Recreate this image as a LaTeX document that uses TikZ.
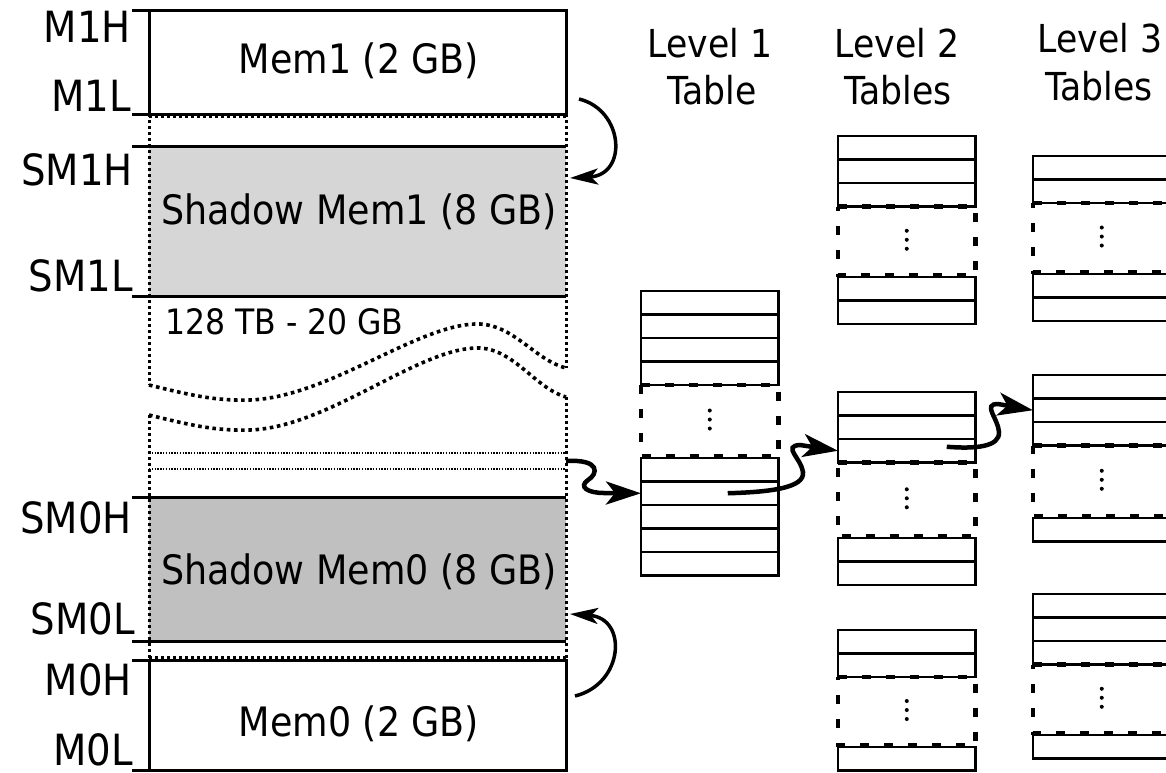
\documentclass[tikz,border=0pt]{standalone}
\usepackage{fontspec}
\setmainfont{DejaVu Sans Condensed}
\usetikzlibrary{arrows.meta,calc}

\definecolor{shadeA}{RGB}{214,214,214}
\definecolor{shadeB}{RGB}{192,192,192}

% One page table: #1 name, #2 left x, #3 top y, #4 upper rows,
% #5 top y of the lower part, #6 lower rows
\newcommand\pagetable[6]{%
  \foreach \k in {1,...,#4}
    \node[row] (#1-u\k) at (#2,{#3+(\k-1)*23.5}) {};
  \pgfmathsetmacro\gaptop{#3+#4*23.5}
  \draw[gapline] (#2,\gaptop) -- (#2+137.5,\gaptop) -- (#2+137.5,#5-2) -- (#2,#5-2) -- cycle;
  \foreach \d in {-9,0,9}
    \fill ({#2+68.75},{(\gaptop+#5)/2-2+\d}) circle (2pt);
  \foreach \k in {1,...,#6}
    \node[row] (#1-l\k) at (#2,{#5+(\k-1)*23.5}) {};
}

\begin{document}
\begin{tikzpicture}[x=1pt,y=-1pt,
  addr/.style={font=\fontsize{43}{50}\selectfont,anchor=base east,inner sep=0pt},
  memtext/.style={font=\fontsize{40.5}{48}\selectfont,anchor=base,inner sep=0pt},
  colhead/.style={font=\fontsize{38.5}{46}\selectfont,anchor=base,inner sep=0pt},
  membox/.style={draw,line width=3pt,anchor=north west,inner sep=0pt,outer sep=0pt,minimum width=417pt},
  shadowbox/.style={anchor=north west,inner sep=0pt,outer sep=0pt,minimum width=417pt},
  tickmark/.style={line width=3pt},
  rim/.style={line width=3pt},
  side/.style={line width=3pt,dash pattern=on 3pt off 3pt},
  wave/.style={line width=3.6pt,dash pattern=on 3.6pt off 3.6pt},
  hair/.style={line width=1.1pt,dash pattern=on 1.4pt off 1.4pt},
  row/.style={draw,line width=2.6pt,anchor=north west,inner sep=0pt,outer sep=0pt,minimum width=137.5pt,minimum height=23.5pt},
  gapline/.style={line width=4.5pt,dash pattern=on 9pt off 15pt},
  hop/.style={line width=4.5pt,-{Stealth[length=35pt,width=23pt,inset=9pt]}},
  swing/.style={line width=3.5pt,-{Stealth[length=28pt,width=16pt,inset=7pt]}},
]
\useasboundingbox (0,0) rectangle (1166,772);
\clip (0,0) rectangle (1166,772);

% shadow regions (filled first so the dotted sides sit on top)
\node[shadowbox,fill=shadeA,minimum height=150pt] (sm1) at (149,146) {};
\node[shadowbox,fill=shadeB,minimum height=144pt] (sm0) at (149,497) {};

% dotted sides of the address space, broken by the cut
\draw[side] (149,114) -- (149,385);
\draw[side] (149,415) -- (149,660);
\draw[side] (566,114) -- (566,368);
\draw[side] (566,397) -- (566,660);
\draw[side] (149,116.5) -- (566,116.5);
\draw[side] (149,657.5) -- (566,657.5);

% the cut through the large gap
\draw[wave] (149,385) .. controls (190,395) and (215,401) .. (250,400)
  .. controls (330,397) and (420,322) .. (480,324)
  .. controls (515,326) and (535,360) .. (566,368);
\draw[wave] (149,415) .. controls (190,425) and (215,431) .. (250,430)
  .. controls (330,427) and (420,346) .. (480,348)
  .. controls (515,350) and (535,388) .. (566,397);
\draw[hair] (149,453) -- (566,453);
\draw[hair] (149,469) -- (566,469);

% memory boxes
\node[membox,minimum height=104pt] (mem1) at (149,10) {};
\node[membox,minimum height=110pt] (mem0) at (149,660) {};
\draw[rim] (sm1.north west) -- (sm1.north east);
\draw[rim] (sm1.south west) -- (sm1.south east);
\draw[rim] (sm0.north west) -- (sm0.north east);
\draw[rim] (sm0.south west) -- (sm0.south east);

\node[memtext] (t-mem1) at (359,73) {Mem1 (2 GB)};
\node[memtext] (t-sm1) at (359,224) {Shadow Mem1 (8 GB)};
\node[memtext] (t-sm0) at (359,584) {Shadow Mem0 (8 GB)};
\node[memtext] (t-mem0) at (359,736) {Mem0 (2 GB)};
\node[anchor=base west,font=\fontsize{35}{42}\selectfont,inner sep=0pt] (gaptext) at (165,334) {128 TB - 20 GB};

% boundary ticks and their names
\foreach \p in {mem1.north west,mem1.south west,sm1.north west,sm1.south west,
                sm0.north west,sm0.south west,mem0.north west,mem0.south west}
  \draw[tickmark] ([xshift=-17pt]\p) -- ([xshift=4pt]\p);
\node[addr] (lab-m1h) at (131,42) {M1H};
\node[addr] (lab-m1l) at (131,111) {M1L};
\node[addr] (lab-sm1h) at (133,185) {SM1H};
\node[addr] (lab-sm1l) at (133,291) {SM1L};
\node[addr] (lab-sm0h) at (132,533) {SM0H};
\node[addr] (lab-sm0l) at (135,634) {SM0L};
\node[addr] (lab-m0h) at (132,695) {M0H};
\node[addr] (lab-m0l) at (133,765) {M0L};

% column headings
\node[colhead] (h1a) at (710,57) {Level 1};
\node[colhead] (h1b) at (712,104) {Table};
\node[colhead] (h2a) at (897,57) {Level 2};
\node[colhead] (h2b) at (898,104) {Tables};
\node[colhead] (h3a) at (1100,52) {Level 3};
\node[colhead] (h3b) at (1099,100) {Tables};

% page tables
\pagetable{ta}{641}{291}{4}{458}{5}
\pagetable{tb}{838}{136}{3}{277}{2}
\pagetable{tc}{838}{392}{3}{538}{2}
\pagetable{td}{838}{630}{2}{747}{1}
\pagetable{te}{1033}{156}{2}{274}{2}
\pagetable{tf}{1033}{375}{3}{518}{1}
\pagetable{tg}{1033}{594}{3}{735}{1}

% mapping arrows
\draw[swing] ($(mem1.south east)+(13,-15)$) .. controls (624,110) and (628,175) .. ($(sm1.north east)+(4,32)$);
\draw[swing] ($(mem0.north east)+(9,36)$) .. controls (624,684) and (628,618) .. ($(sm0.south east)+(4,-27)$);

\coordinate (tap) at (566,461);
\draw[hop] (tap) .. controls (601,459) and (598,474) .. (588,480)
  .. controls (578,487) and (588,493) .. (604,493) -- (ta-l2.west);
\draw[hop] ([xshift=18pt]ta-l2.center) .. controls (770,492) and (805,488) .. (803,472)
  .. controls (801,458) and (782,446) .. (800,445) -- (tc-u3.west);
\draw[hop] ([xshift=40pt,yshift=4pt]tc-u3.center) .. controls (975,449) and (1000,447) .. (999,432)
  .. controls (998,418) and (982,404) .. (998,404) -- (tf-u2.west);
\end{tikzpicture}
\end{document}
